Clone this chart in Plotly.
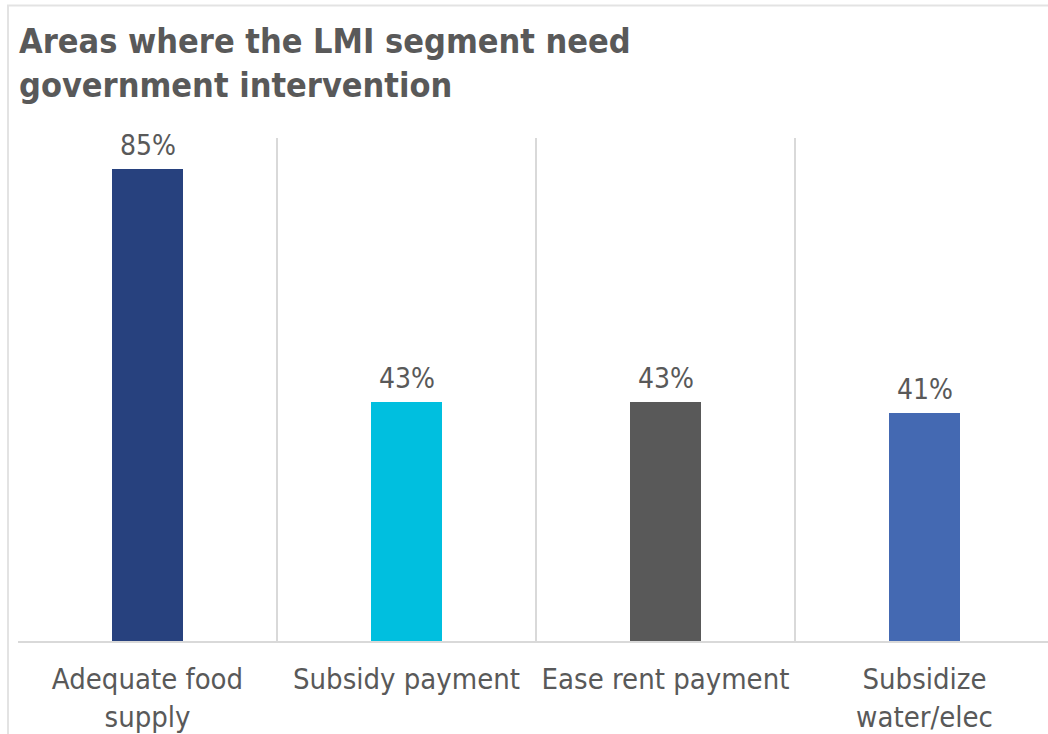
import plotly.graph_objects as go

categories = ["Adequate food<br>supply", "Subsidy payment", "Ease rent payment", "Subsidize<br>water/elec"]
shares = [0.85, 0.43, 0.43, 0.41]
bar_colors = ["#27417E", "#00BFDF", "#595959", "#4469B2"]
title_text = "Areas where the LMI segment need<br>government intervention"

W, H = 1048, 734
ml, mr, mt, mb = 18, 0, 138, 91
plot_w = W - ml - mr
plot_h = H - mt - mb
cat_px = 259.0

text_font = "DejaVu Sans Condensed, DejaVu Sans, sans-serif"
gray = "#595959"

fig = go.Figure(
    go.Bar(
        x=categories,
        y=shares,
        marker=dict(color=bar_colors, line=dict(width=0)),
        width=71 / cat_px,
        hoverinfo="x+y",
    )
)

# value labels above each bar
for cat, val in zip(categories, shares):
    fig.add_annotation(
        x=cat,
        y=val,
        text=f"{val:.0%}",
        showarrow=False,
        yanchor="bottom",
        yshift=5,
        font=dict(size=28, color=gray, family=text_font),
    )

fig.add_annotation(
    xref="paper",
    yref="paper",
    x=(17 - ml) / plot_w,
    y=1 + (mt - 19) / plot_h,
    xanchor="left",
    yanchor="top",
    align="left",
    text="<b>" + title_text + "</b>",
    showarrow=False,
    font=dict(size=34, color=gray, family=text_font),
)

fig.update_layout(
    width=W,
    height=H,
    margin=dict(l=ml, r=mr, t=mt, b=mb),
    paper_bgcolor="white",
    plot_bgcolor="white",
    showlegend=False,
    font=dict(family=text_font, color=gray),
    xaxis=dict(
        type="category",
        range=[-0.5, -0.5 + plot_w / cat_px],
        tickson="boundaries",
        showgrid=True,
        gridcolor="#D9D9D9",
        gridwidth=2,
        ticks="",
        showline=True,
        linecolor="#D9D9D9",
        linewidth=2,
        tickfont=dict(size=29, color=gray, family=text_font),
        ticklabelstandoff=11,
    ),
    yaxis=dict(
        range=[0, 0.905],
        visible=False,
        showgrid=False,
        zeroline=False,
    ),
    bargap=0,
)

# light frame around the chart area
fig.add_shape(
    type="rect",
    xref="paper",
    yref="paper",
    x0=-10 / plot_w,
    x1=1 + 40 / plot_w,
    y0=-(mb + 40) / plot_h,
    y1=1 + (mt - 5) / plot_h,
    line=dict(color="#E3E3E3", width=2),
    fillcolor="rgba(0,0,0,0)",
    layer="below",
)

fig.write_html("out.html")
